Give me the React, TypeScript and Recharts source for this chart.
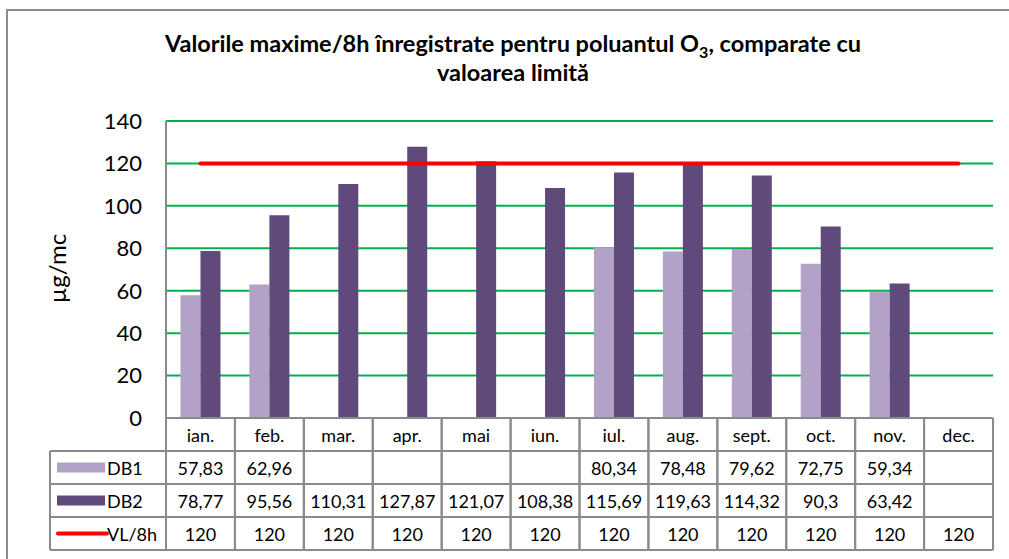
import React from 'react';
import { ComposedChart, Bar, Line, XAxis, YAxis, CartesianGrid } from 'recharts';

const months = ['ian.', 'feb.', 'mar.', 'apr.', 'mai', 'iun.', 'iul.', 'aug.', 'sept.', 'oct.', 'nov.', 'dec.'];
const db1: (number | null)[] = [57.83, 62.96, null, null, null, null, 80.34, 78.48, 79.62, 72.75, 59.34, null];
const db2: (number | null)[] = [78.77, 95.56, 110.31, 127.87, 121.07, 108.38, 115.69, 119.63, 114.32, 90.3, 63.42, null];
const vl: number[] = [120, 120, 120, 120, 120, 120, 120, 120, 120, 120, 120, 120];
const yTicks = [0, 20, 40, 60, 80, 100, 120, 140];
const seriesNames = ['DB1', 'DB2', 'VL/8h'];

const data = months.map((m, i) => ({ month: m, DB1: db1[i], DB2: db2[i], VL: vl[i] }));

const W = 1009;
const H = 559;
const PLOT_LEFT = 166;
const PLOT_RIGHT = 993;
const PLOT_TOP = 121;
const PLOT_BOTTOM = 418;
const YAXIS_W = 160;
const XAXIS_H = 135;
const BAND = (PLOT_RIGHT - PLOT_LEFT) / months.length;
const ROW_H = 33;
const LEGEND_W = 116;

const C_DB1 = '#B3A2C7';
const C_DB2 = '#604A7B';
const C_VL = '#FF0000';
const C_GRID = '#00B050';
const C_BORDER = '#8A8A8A';
const FONT = 'Lato, "Open Sans", sans-serif';

const fmt = (v: number | null) => (v === null || v === undefined ? '' : String(v).replace('.', ','));

function TableTick(props: any) {
  const { x, y, payload } = props;
  const idx = months.indexOf(payload.value);
  const left = x - BAND / 2;
  const right = x + BAND / 2;
  const top = y;
  const rowsVals = [fmt(db1[idx]), fmt(db2[idx]), fmt(vl[idx])];
  const fs = 18;
  const els: React.ReactNode[] = [];
  els.push(<line key="vl" x1={left} x2={left} y1={top} y2={top + ROW_H * 4} stroke={C_BORDER} strokeWidth={2} />);
  els.push(<line key="vr" x1={right} x2={right} y1={top} y2={top + ROW_H * 4} stroke={C_BORDER} strokeWidth={2} />);
  for (let r = 1; r <= 4; r++) {
    els.push(<line key={'h' + r} x1={left} x2={right} y1={top + ROW_H * r} y2={top + ROW_H * r} stroke={C_BORDER} strokeWidth={2} />);
  }
  els.push(
    <text key="lab" x={x} y={top + ROW_H / 2} textAnchor="middle" dominantBaseline="central" fontSize={fs} fontFamily={FONT} fill="#000">
      {payload.value}
    </text>
  );
  rowsVals.forEach((v, r) => {
    els.push(
      <text key={'v' + r} x={x} y={top + ROW_H * (r + 1.5)} textAnchor="middle" dominantBaseline="central" fontSize={fs} fontFamily={FONT} fill="#000">
        {v}
      </text>
    );
  });
  if (idx === 0) {
    const lx = left - LEGEND_W;
    els.push(<line key="lv" x1={lx} x2={lx} y1={top + ROW_H} y2={top + ROW_H * 4} stroke={C_BORDER} strokeWidth={2} />);
    for (let r = 1; r <= 4; r++) {
      els.push(<line key={'lh' + r} x1={lx} x2={left} y1={top + ROW_H * r} y2={top + ROW_H * r} stroke={C_BORDER} strokeWidth={2} />);
    }
    seriesNames.forEach((name, r) => {
      const cy = top + ROW_H * (r + 1.5);
      if (r < 2) {
        els.push(<rect key={'sw' + r} x={lx + 7} y={cy - 5} width={48} height={10} fill={r === 0 ? C_DB1 : C_DB2} />);
      } else {
        els.push(<line key="swl" x1={lx + 8} x2={lx + 57} y1={cy} y2={cy} stroke={C_VL} strokeWidth={4} strokeLinecap="round" />);
      }
      els.push(
        <text key={'ln' + r} x={lx + 57} y={cy} textAnchor="start" dominantBaseline="central" fontSize={fs} fontFamily={FONT} fill="#000">
          {name}
        </text>
      );
    });
  }
  return <g>{els}</g>;
}

function YLabel(props: any) {
  const vb = props.viewBox || { x: 0, y: 0, width: 0, height: 0 };
  const cx = vb.x + 50;
  const cy = vb.y + vb.height / 2 - 1;
  return (
    <text x={cx} y={cy} transform={`rotate(-90, ${cx}, ${cy})`} textAnchor="middle" dominantBaseline="central" fontSize={24} fontFamily={FONT} fill="#000">
      µg/mc
    </text>
  );
}

export default function App() {
  return (
    <div style={{ position: 'fixed', left: 0, top: 0, width: W, height: H, background: '#fff', overflow: 'hidden' }}>
      <div
        style={{
          position: 'absolute',
          left: 6,
          top: 9,
          width: W - 6,
          height: H - 9,
          boxSizing: 'border-box',
          borderLeft: '2px solid #8C8C8C',
          borderTop: '2px solid #8C8C8C',
        }}
      />
      <div
        style={{
          position: 'absolute',
          left: 0,
          top: 29,
          width: 1026,
          textAlign: 'center',
          fontFamily: FONT,
          fontWeight: 700,
          fontSize: 23.5,
          lineHeight: '29px',
          color: '#000',
        }}
      >
        Valorile maxime/8h înregistrate pentru poluantul O<sub style={{ fontSize: 16, lineHeight: 0 }}>3</sub>, comparate cu
        <br />
        valoarea limită
      </div>
      <div style={{ position: 'absolute', left: 0, top: 0 }}>
        <ComposedChart
          width={W}
          height={H}
          data={data}
          margin={{ top: PLOT_TOP, right: W - PLOT_RIGHT, bottom: H - PLOT_BOTTOM - XAXIS_H, left: PLOT_LEFT - YAXIS_W }}
          barCategoryGap="21%"
          barGap={0}
        >
          <CartesianGrid horizontal vertical={false} stroke={C_GRID} strokeWidth={2} />
          <XAxis
            dataKey="month"
            height={XAXIS_H}
            interval={0}
            tickLine={false}
            tickSize={0}
            tickMargin={0}
            axisLine={{ stroke: C_BORDER, strokeWidth: 2 }}
            tick={<TableTick />}
          />
          <YAxis
            width={YAXIS_W}
            domain={[0, 140]}
            ticks={yTicks}
            interval={0}
            tickLine={false}
            tickSize={0}
            tickMargin={24}
            axisLine={{ stroke: C_BORDER, strokeWidth: 2 }}
            tick={{ fontSize: 22, fill: '#000', fontFamily: FONT }}
            label={<YLabel />}
          />
          <Bar dataKey="DB1" fill={C_DB1} isAnimationActive={false} />
          <Bar dataKey="DB2" fill={C_DB2} isAnimationActive={false} />
          <Line dataKey="VL" stroke={C_VL} strokeWidth={4} dot={false} activeDot={false} strokeLinecap="round" isAnimationActive={false} />
        </ComposedChart>
      </div>
    </div>
  );
}
